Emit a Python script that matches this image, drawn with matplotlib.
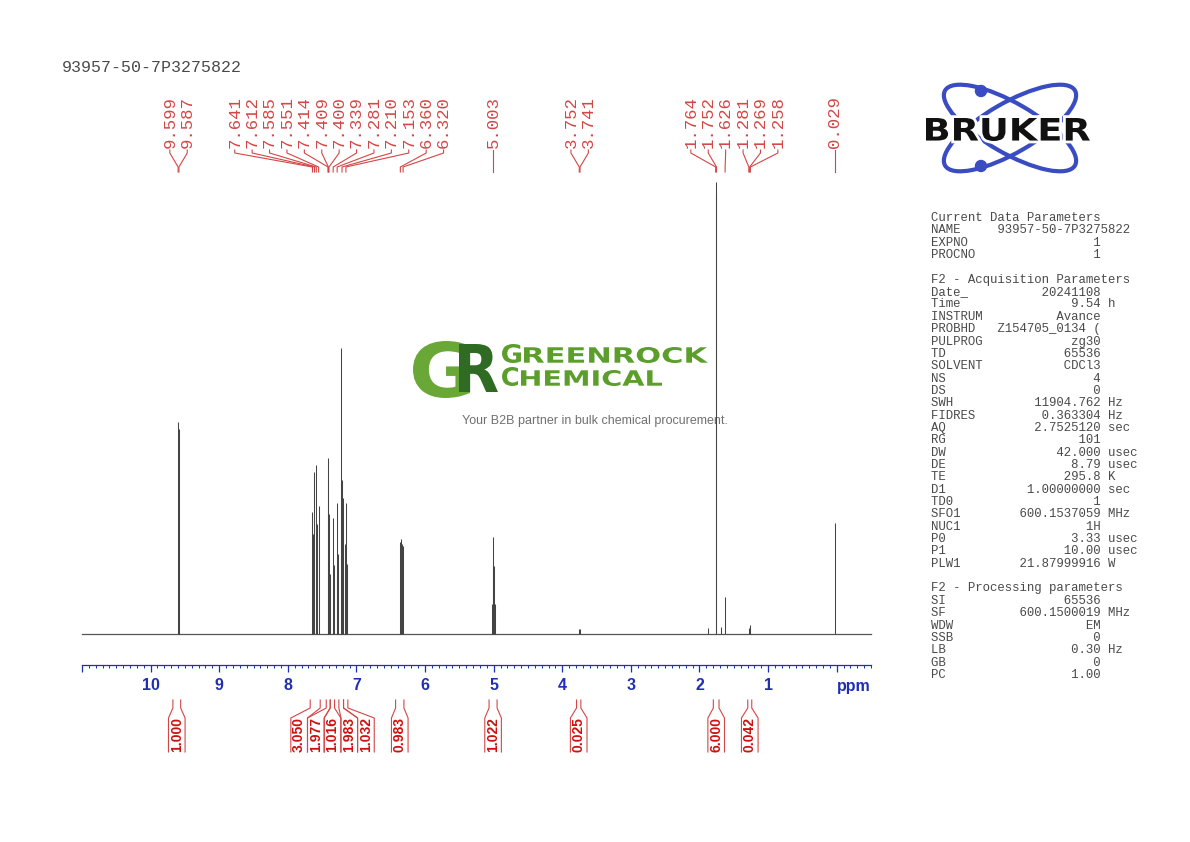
import numpy as np
import matplotlib
matplotlib.use('Agg')
import matplotlib.pyplot as plt
import matplotlib.transforms as mtransforms
import matplotlib.patheffects as pe
from matplotlib.patches import PathPatch, Ellipse, Circle
from matplotlib.textpath import TextPath
from matplotlib.font_manager import FontProperties

plt.rcParams['font.family'] = ['Liberation Sans', 'DejaVu Sans']

sample_name = '93957-50-7P3275822'

# stick spectrum: line positions (ppm) and heights (arbitrary units)
peak_ppm = [9.599, 9.587,
            7.641, 7.629, 7.612, 7.585, 7.570, 7.551, 7.414, 7.409, 7.400, 7.388,
            7.339, 7.327, 7.290, 7.281, 7.268, 7.222, 7.210, 7.198, 7.165, 7.153, 7.141,
            6.360, 6.347, 6.333, 6.320,
            5.027, 5.015, 5.003, 4.991, 4.979,
            3.752, 3.741,
            1.875, 1.764, 1.752, 1.690, 1.626,
            1.281, 1.269, 1.258,
            0.029]
peak_h = [212, 205,
          122, 100, 162, 169, 110, 128, 176, 156, 120, 60,
          116, 69, 60, 131, 80, 286, 154, 136, 90, 131, 70,
          92, 95, 90, 88,
          30, 70, 97, 68, 30,
          5, 5,
          6, 452, 440, 7, 37,
          6, 9, 6,
          111]

# picked peaks shown at the top
pick_ppm = [9.599, 9.587, 7.641, 7.612, 7.585, 7.551, 7.414, 7.409, 7.400, 7.339,
            7.281, 7.210, 7.153, 6.360, 6.320, 5.003, 3.752, 3.741,
            1.764, 1.752, 1.626, 1.281, 1.269, 1.258, 0.029]

# integral regions and values
int_from = [9.675, 7.674, 7.440, 7.382, 7.256, 7.188, 6.429, 5.067, 3.792, 1.798, 1.296]
int_to = [9.562, 7.528, 7.382, 7.319, 7.188, 7.125, 6.308, 4.950, 3.729, 1.715, 1.238]
int_val = [1.000, 3.050, 1.977, 1.016, 1.983, 1.032, 0.983, 1.022, 0.025, 6.000, 0.042]

major_ticks = list(range(11, -1, -1))
tick_text = ['' if v in (11, 0) else str(v) for v in major_ticks]

params = [
    ('Current Data Parameters',),
    ('NAME', sample_name, ''), ('EXPNO', '1', ''), ('PROCNO', '1', ''),
    None,
    ('F2 - Acquisition Parameters',),
    ('Date_', '20241108', ''), ('Time', '9.54', 'h'), ('INSTRUM', 'Avance', ''),
    ('PROBHD', 'Z154705_0134 (', ''), ('PULPROG', 'zg30', ''), ('TD', '65536', ''),
    ('SOLVENT', 'CDCl3', ''), ('NS', '4', ''), ('DS', '0', ''),
    ('SWH', '11904.762', 'Hz'), ('FIDRES', '0.363304', 'Hz'), ('AQ', '2.7525120', 'sec'),
    ('RG', '101', ''), ('DW', '42.000', 'usec'), ('DE', '8.79', 'usec'),
    ('TE', '295.8', 'K'), ('D1', '1.00000000', 'sec'), ('TD0', '1', ''),
    ('SFO1', '600.1537059', 'MHz'), ('NUC1', '1H', ''), ('P0', '3.33', 'usec'),
    ('P1', '10.00', 'usec'), ('PLW1', '21.87999916', 'W'),
    None,
    ('F2 - Processing parameters',),
    ('SI', '65536', ''), ('SF', '600.1500019', 'MHz'), ('WDW', 'EM', ''),
    ('SSB', '0', ''), ('LB', '0.30', 'Hz'), ('GB', '0', ''), ('PC', '1.00', ''),
]

W, H = 1190, 842
XL, XR = 11.0, -0.5
AX_L, AX_R = 82, 871
RED = '#d44646'
BLUE = '#1f2fb0'


def spread(centers, gap):
    # push labels apart, keeping each cluster centred on its peaks
    groups = [[c] for c in centers]
    while True:
        pos = []
        for g in groups:
            m, n = np.mean(g), len(g)
            pos.append([m + gap * ((n - 1) / 2 - k) for k in range(n)])
        for i in range(len(groups) - 1):
            if pos[i][-1] - pos[i + 1][0] < gap:
                groups[i] = groups[i] + groups.pop(i + 1)
                break
        else:
            return [p for ps in pos for p in ps]


def fit_text(ax, s, x0, y0, x1, y1, color, weight='bold', family='DejaVu Sans', **kw):
    tp = TextPath((0, 0), s, size=100, prop=FontProperties(family=family, weight=weight))
    ext = tp.get_extents()
    tr = mtransforms.Affine2D().translate(-ext.x0, -ext.y1) \
        .scale((x1 - x0) / ext.width, -(y1 - y0) / ext.height).translate(x0, y0)
    p = PathPatch(tr.transform_path(tp), fc=color, ec='none', **kw)
    ax.add_patch(p)
    return p


fig = plt.figure(figsize=(W / 100, H / 100), dpi=100)

# background layer in pixel coordinates: logos, title, parameters
over = fig.add_axes([0, 0, 1, 1])
over.set_xlim(0, W)
over.set_ylim(H, 0)
over.axis('off')

over.text(62, 68, sample_name, family='Liberation Mono', fontsize=12, color='#4a4a4a',
          ha='left', va='center')

# Greenrock watermark
fit_text(over, 'G', 413, 341, 470, 398, '#69a836')
fit_text(over, 'R', 459, 344, 498, 392, '#2f6b22')
fit_text(over, 'G', 502, 344, 521, 363, '#5c9e2c')
fit_text(over, 'REENROCK', 524, 347, 708, 363, '#5c9e2c')
fit_text(over, 'C', 502, 367, 518, 386, '#5c9e2c')
fit_text(over, 'HEMICAL', 521, 370, 662, 386, '#5c9e2c')
over.text(595, 421, 'Your B2B partner in bulk chemical procurement.', fontsize=9,
          color='#707070', ha='center', va='center')

# Bruker logo
for ang in (30, -30):
    over.add_patch(Ellipse((1010, 128), 150, 50, angle=ang, fill=False, ec='#3a4cc2', lw=3))
over.add_patch(Circle((981, 91), 5.5, color='#3a4cc2'))
over.add_patch(Circle((981, 166), 5.5, color='#3a4cc2'))
fit_text(over, 'BRUKER', 926, 118, 1090, 141, '#111111',
         path_effects=[pe.withStroke(linewidth=4, foreground='white')])

# acquisition parameter block
for i, row in enumerate(params):
    if row is None:
        continue
    if len(row) == 1:
        line = row[0]
    else:
        lab, val, unit = row
        line = f'{lab:<9}{val:>14}' + (f' {unit}' if unit else '')
    over.text(931, 218 + i * 12.35, line, family='Liberation Mono', fontsize=8.9,
              color='#4a4a4a', ha='left', va='center')

# spectrum
spec = fig.add_axes([AX_L / W, 1 - 634 / H, (AX_R - AX_L) / W, 452 / H])
spec.patch.set_alpha(0)
spec.set_xlim(XL, XR)
spec.set_ylim(0, max(peak_h))
spec.axis('off')
spec.axhline(0, color='#555555', lw=0.9, clip_on=False)
spec.vlines(peak_ppm, 0, peak_h, color='#444444', lw=0.75, clip_on=False)

# ppm scale
sc = fig.add_axes([AX_L / W, 1 - 665 / H, (AX_R - AX_L) / W, 0.001])
sc.patch.set_alpha(0)
sc.set_xlim(XL, XR)
for s in ('top', 'left', 'right'):
    sc.spines[s].set_visible(False)
sc.spines['bottom'].set_color(BLUE)
sc.spines['bottom'].set_linewidth(0.9)
sc.set_yticks([])
sc.set_xticks(major_ticks, labels=tick_text)
sc.set_xticks(np.arange(-5, 111) / 10, minor=True)
sc.tick_params(axis='x', which='major', direction='out', length=5, width=0.9,
               color=BLUE, labelcolor=BLUE, labelsize=11.5, pad=4.5)
sc.tick_params(axis='x', which='minor', direction='out', length=2.3, width=0.7, color=BLUE)
for t in sc.get_xticklabels():
    t.set_fontweight('bold')

# annotation layer: ppm in x, pixels in y
ann = fig.add_axes([AX_L / W, 0, (AX_R - AX_L) / W, 1])
ann.patch.set_alpha(0)
ann.set_xlim(XL, XR)
ann.set_ylim(H, 0)
ann.axis('off')
ann.text(XR, 686, 'ppm', ha='right', va='center', color=BLUE, fontsize=11.5,
         fontweight='bold')

# peak picking labels
lab_pos = spread(pick_ppm, 17.4 / 68.6)
for p, lx in zip(pick_ppm, lab_pos):
    ann.plot([lx, lx, p, p], [150, 153, 167, 172], color=RED, lw=0.8, clip_on=False)
    ann.text(lx, 148, f'{p:.3f}', rotation=90, ha='center', va='bottom',
             family='Liberation Mono', fontsize=12.5, color=RED, clip_on=False)

# integrals
centres = [(a + b) / 2 for a, b in zip(int_from, int_to)]
int_pos = spread(centres, 16.7 / 68.6)
hw = 8.3 / 68.6
for a, b, v, lx in zip(int_from, int_to, int_val, int_pos):
    ann.plot([a, a, lx + hw, lx + hw], [700, 708, 718, 752], color=RED, lw=0.8, clip_on=False)
    ann.plot([b, b, lx - hw, lx - hw], [700, 708, 718, 752], color=RED, lw=0.8, clip_on=False)
    ann.text(lx, 735, f'{v:.3f}', rotation=90, ha='center', va='center', color='#cc1111',
             fontsize=10, fontweight='bold', clip_on=False)

fig.savefig('out.png', dpi=100)
